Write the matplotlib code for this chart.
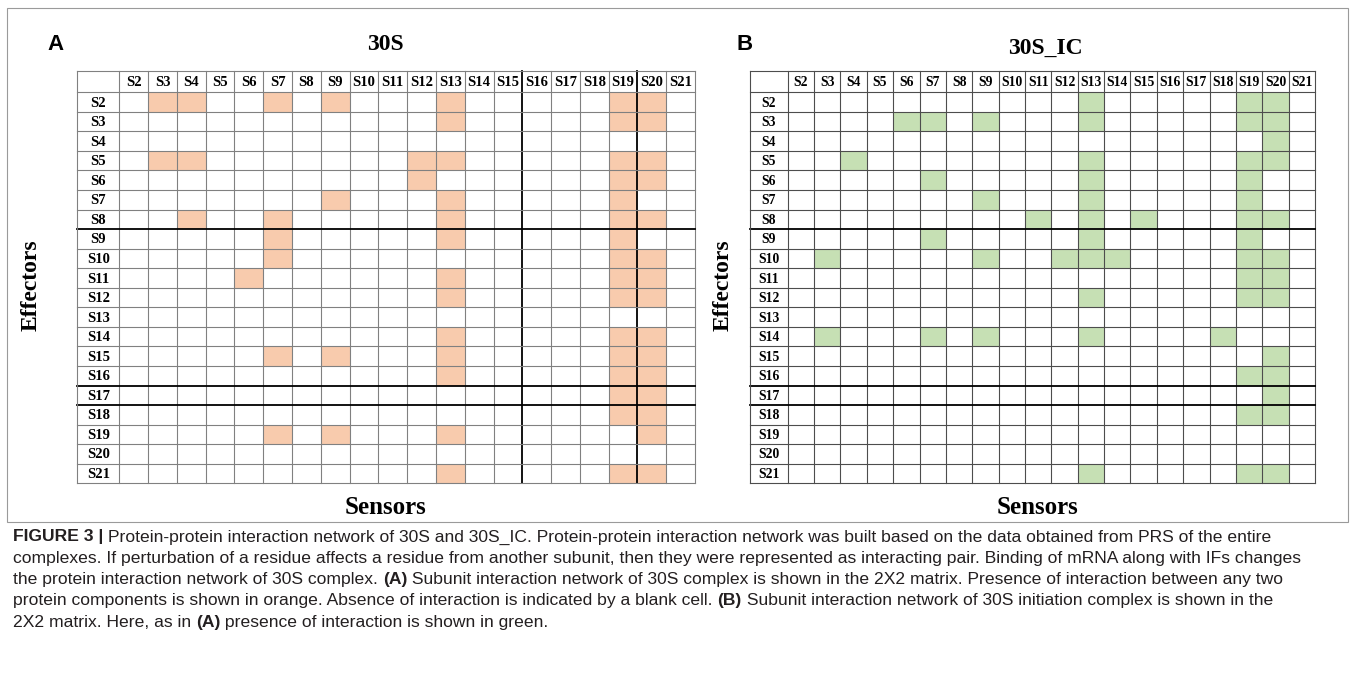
import matplotlib
matplotlib.use("Agg")
import matplotlib.pyplot as plt
from matplotlib.patches import Rectangle

# proteins of the 30S subunit (same order for sensors and effectors)
sensors = ["S%d" % k for k in range(2, 22)]
effectors = ["S%d" % k for k in range(2, 22)]

# sensors hit by each effector, 30S complex (panel A)
links_30s = [
    ["S3", "S4", "S7", "S9", "S13", "S19", "S20"],   # S2
    ["S13", "S19", "S20"],                           # S3
    [],                                              # S4
    ["S3", "S4", "S12", "S13", "S19", "S20"],        # S5
    ["S12", "S19", "S20"],                           # S6
    ["S9", "S13", "S19"],                            # S7
    ["S4", "S7", "S13", "S19", "S20"],               # S8
    ["S7", "S13", "S19"],                            # S9
    ["S7", "S19", "S20"],                            # S10
    ["S6", "S13", "S19", "S20"],                     # S11
    ["S13", "S19", "S20"],                           # S12
    [],                                              # S13
    ["S13", "S19", "S20"],                           # S14
    ["S7", "S9", "S13", "S19", "S20"],               # S15
    ["S13", "S19", "S20"],                           # S16
    ["S19", "S20"],                                  # S17
    ["S19", "S20"],                                  # S18
    ["S7", "S9", "S13", "S20"],                      # S19
    [],                                              # S20
    ["S13", "S19", "S20"],                           # S21
]

# sensors hit by each effector, 30S initiation complex (panel B)
links_30s_ic = [
    ["S13", "S19", "S20"],                                  # S2
    ["S6", "S7", "S9", "S13", "S19", "S20"],                # S3
    ["S20"],                                                # S4
    ["S4", "S13", "S19", "S20"],                            # S5
    ["S7", "S13", "S19"],                                   # S6
    ["S9", "S13", "S19"],                                   # S7
    ["S11", "S13", "S15", "S19", "S20"],                    # S8
    ["S7", "S13", "S19"],                                   # S9
    ["S3", "S9", "S12", "S13", "S14", "S19", "S20"],        # S10
    ["S19", "S20"],                                         # S11
    ["S13", "S19", "S20"],                                  # S12
    [],                                                     # S13
    ["S3", "S7", "S9", "S13", "S18"],                       # S14
    ["S20"],                                                # S15
    ["S19", "S20"],                                         # S16
    ["S20"],                                                # S17
    ["S19", "S20"],                                         # S18
    [],                                                     # S19
    [],                                                     # S20
    ["S13", "S19", "S20"],                                  # S21
]

W, H = 1355, 676
SERIF = "Liberation Serif"
CAPTION_FONT = ["Liberation Sans", "DejaVu Sans"]

fig = plt.figure(figsize=(W / 100, H / 100), dpi=100)


def px_axes(x0, y0, x1, y1):
    """axes placed with pixel coords measured from the top-left corner"""
    return fig.add_axes([x0 / W, 1 - y1 / H, (x1 - x0) / W, (y1 - y0) / H])


def draw_matrix(ax, links, color, hdr_w, hdr_h, fs, line_col, thick_rows, thick_cols):
    n_c, n_r = len(sensors), len(effectors)
    ax.set_xlim(0, n_c)
    ax.set_ylim(n_r, 0)
    ax.axis("off")

    # a. filled cells
    for i, row in enumerate(links):
        for s in row:
            j = sensors.index(s)
            ax.add_patch(Rectangle((j, i), 1, 1, facecolor=color, edgecolor="none"))

    # b. grid lines, running into the header row / column
    for j in range(n_c + 1):
        lw = 1.3 if j in thick_cols else 0.8
        c = "black" if j in thick_cols else line_col
        ax.plot([j, j], [-hdr_h, n_r], color=c, lw=lw, clip_on=False)
    for i in range(n_r + 1):
        lw = 1.3 if i in thick_rows else 0.8
        c = "black" if i in thick_rows else line_col
        ax.plot([-hdr_w, n_c], [i, i], color=c, lw=lw, clip_on=False)
    ax.plot([-hdr_w, -hdr_w], [-hdr_h, n_r], color=line_col, lw=0.8, clip_on=False)
    ax.plot([-hdr_w, n_c], [-hdr_h, -hdr_h], color=line_col, lw=0.8, clip_on=False)

    # c. header labels
    for j, s in enumerate(sensors):
        ax.text(j + 0.5, -hdr_h / 2 + 0.05, s, ha="center", va="center", fontsize=fs,
                fontweight="bold", family=SERIF)
    for i, e in enumerate(effectors):
        ax.text(-hdr_w / 2, i + 0.55, e, ha="center", va="center", fontsize=fs,
                fontweight="bold", family=SERIF)


axA = px_axes(119.3, 92.3, 695, 483.3)
draw_matrix(axA, links_30s, "#F8CBAD", 1.46, 1.10, 10.5, "#808080",
            thick_rows={7, 15, 16}, thick_cols={14, 18})

axB = px_axes(787.7, 92.3, 1315, 483.3)
draw_matrix(axB, links_30s_ic, "#C6E0B4", 1.44, 1.10, 9.8, "#4d4d4d",
            thick_rows={7, 15, 16}, thick_cols=set())


def fig_text(x, y, s, **kw):
    fig.text(x / W, 1 - y / H, s, **kw)


# panel letters, titles and axis names
fig_text(55, 45, "A", fontsize=16, fontweight="bold", family="Liberation Sans",
         ha="center", va="center")
fig_text(745, 45, "B", fontsize=16, fontweight="bold", family="Liberation Sans",
         ha="center", va="center")
fig_text(385, 45, "30S", fontsize=17, fontweight="bold", family=SERIF,
         ha="center", va="center")
fig_text(1045, 48, "30S_IC", fontsize=17, fontweight="bold", family=SERIF,
         ha="center", va="center")
fig_text(385, 507, "Sensors", fontsize=18, fontweight="bold", family=SERIF,
         ha="center", va="center")
fig_text(1038, 507, "Sensors", fontsize=18, fontweight="bold", family=SERIF,
         ha="center", va="center")
fig_text(31, 285, "Effectors", fontsize=17, fontweight="bold", family=SERIF,
         ha="center", va="center", rotation=90)
fig_text(723, 285, "Effectors", fontsize=17, fontweight="bold", family=SERIF,
         ha="center", va="center", rotation=90)

# frame around the figure
fig.add_artist(Rectangle((7 / W, 1 - 522 / H), (1348 - 7) / W, (522 - 8) / H,
                         transform=fig.transFigure, fill=False,
                         edgecolor="#9a9a9a", lw=0.8))

# caption, written piece by piece so the bold runs sit inline
caption = [
    [("FIGURE 3 | ", "bold"),
     ("Protein-protein interaction network of 30S and 30S_IC. Protein-protein interaction "
      "network was built based on the data obtained from PRS of the entire", "normal")],
    [("complexes. If perturbation of a residue affects a residue from another subunit, then they "
      "were represented as interacting pair. Binding of mRNA along with IFs changes", "normal")],
    [("the protein interaction network of 30S complex. ", "normal"), ("(A)", "bold"),
     (" Subunit interaction network of 30S complex is shown in the 2X2 matrix. Presence of "
      "interaction between any two", "normal")],
    [("protein components is shown in orange. Absence of interaction is indicated by a blank cell. ",
      "normal"), ("(B)", "bold"),
     (" Subunit interaction network of 30S initiation complex is shown in the", "normal")],
    [("2X2 matrix. Here, as in ", "normal"), ("(A)", "bold"),
     (" presence of interaction is shown in green.", "normal")],
]
renderer = fig.canvas.get_renderer()
y = 537
for line in caption:
    x = 13
    for s, wgt in line:
        t = fig.text(x / W, 1 - y / H, s, fontsize=12.6, fontweight=wgt,
                     family=CAPTION_FONT, ha="left", va="center", color="#231f20")
        x = t.get_window_extent(renderer).x1
    y += 21.3

fig.savefig("out.png", dpi=100)
